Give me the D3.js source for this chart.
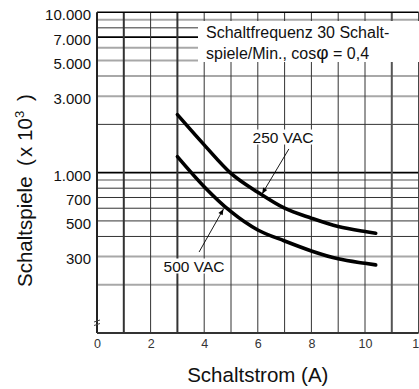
<!DOCTYPE html>
<html>
<head>
<meta charset="utf-8">
<script src="https://cdn.jsdelivr.net/npm/d3@7"></script>
<style>
  body { margin: 0; background: #fff; }
  svg { display: block; font-family: "Liberation Sans", Arial, sans-serif; }
</style>
</head>
<body>
<svg width="419" height="389"></svg>
<script>
// Schaltstrom (A) and Schaltspiele for both curves
var current = [3, 4, 5, 6, 7, 8, 9, 10, 10.4];
var vac250 = [2300, 1490, 990, 755, 600, 520, 461, 429, 419];
var vac500 = [1260, 818, 571, 439, 375, 325, 290, 272, 266];

var xTicks = [0, 2, 4, 6, 8, 10, 12];
var yTicks = [10000, 7000, 5000, 3000, 1000, 700, 500, 300];
var yTickLabels = ["10.000", "7.000", "5.000", "3.000", "1.000", "700", "500", "300"];

// grid lines
var xGrid = [1, 2, 3, 4, 5, 6, 7, 8, 9, 10, 11, 12];
var yGrid = [9000, 8000, 7000, 6000, 5000, 4000, 3000, 2000, 1000, 900, 800, 700, 600, 500, 400, 300, 200];
var yGridGray = [9000, 6000, 5000, 4000, 3000, 900, 300, 200];
var yGridBlack = [7000, 1000];
var xGridHeavy = [1, 3];

// annotation anchors (current, count)
var label250 = [6.94, 1670], arrow250 = [[7.16, 1405], [6.16, 737]];
var label500 = [3.62, 262], arrow500 = [[3.81, 320], [4.72, 594]];

var svg = d3.select("svg");

var x = d3.scaleLinear().domain([0, 12]).range([97, 418.6]);
var y = d3.scaleLog().domain([100, 10000]).range([333, 12.3]);

var grid = svg.append("g");

yGrid.forEach(function(v) {
  var gray = yGridGray.indexOf(v) >= 0, black = yGridBlack.indexOf(v) >= 0;
  grid.append("line")
    .attr("x1", x(0)).attr("x2", x(12))
    .attr("y1", y(v)).attr("y2", y(v))
    .attr("stroke", gray ? "#a8a8a8" : (black ? "#000" : "#333"))
    .attr("stroke-width", gray ? 2 : (black ? 1.6 : 1));
});

xGrid.forEach(function(v) {
  var heavy = xGridHeavy.indexOf(v) >= 0;
  grid.append("line")
    .attr("x1", x(v)).attr("x2", x(v))
    .attr("y1", y(10000)).attr("y2", y(100))
    .attr("stroke", v === 11 ? "#555" : "#333")
    .attr("stroke-width", (heavy || v === 11) ? 2 : 1);
});

// frame: top, left, bottom
svg.append("line").attr("x1", x(0)).attr("x2", x(12)).attr("y1", y(10000)).attr("y2", y(10000))
  .attr("stroke", "#000").attr("stroke-width", 1.6);
svg.append("line").attr("x1", x(0)).attr("x2", x(0)).attr("y1", y(10000)).attr("y2", y(100))
  .attr("stroke", "#222").attr("stroke-width", 2);
svg.append("line").attr("x1", x(0)).attr("x2", x(12)).attr("y1", y(100)).attr("y2", y(100))
  .attr("stroke", "#333").attr("stroke-width", 2.2);

// axis break mark
[0, 3.5].forEach(function(o) {
  svg.append("line").attr("x1", x(0) - 3).attr("x2", x(0) + 3)
    .attr("y1", y(100) - 12 + o + 1).attr("y2", y(100) - 12 + o - 1)
    .attr("stroke", "#444").attr("stroke-width", 1);
});

// info box
svg.append("rect").attr("x", 198).attr("y", 21).attr("width", 221).attr("height", 41).attr("fill", "#fff");
var info = svg.append("text").attr("font-size", 16).attr("fill", "#111");
info.append("tspan").attr("x", 206).attr("y", 37.5).text("Schaltfrequenz 30 Schalt-");
var l2 = info.append("tspan").attr("x", 206).attr("y", 59);
l2.append("tspan").text("spiele/Min., cos");
l2.append("tspan").attr("font-size", 19).text("φ");
l2.append("tspan").text(" = 0,4");

// axes
svg.append("g")
  .attr("transform", "translate(0," + y(100) + ")")
  .call(d3.axisBottom(x).tickValues(xTicks).tickSize(0).tickPadding(6).tickFormat(d3.format("d")))
  .call(function(g) { g.select(".domain").remove(); })
  .selectAll("text")
  .attr("font-family", "'Liberation Sans Narrow', 'Liberation Sans', Arial, sans-serif")
  .attr("font-size", 12.5).attr("fill", "#333");

svg.append("g")
  .attr("transform", "translate(" + x(0) + ",0)")
  .call(d3.axisLeft(y).tickValues(yTicks).tickSize(0).tickPadding(6)
    .tickFormat(function(d, i) { return yTickLabels[i]; }))
  .call(function(g) { g.select(".domain").remove(); })
  .selectAll("text")
  .attr("font-family", "'Liberation Sans', Arial, sans-serif")
  .attr("font-size", 15).attr("fill", "#111").attr("dy", "0.5em");

// curves
var line = d3.line()
  .x(function(d) { return x(d[0]); })
  .y(function(d) { return y(d[1]); })
  .curve(d3.curveMonotoneX);

[vac250, vac500].forEach(function(s) {
  svg.append("path")
    .datum(current.map(function(c, i) { return [c, s[i]]; }))
    .attr("fill", "none")
    .attr("stroke", "#000")
    .attr("stroke-width", 3.6)
    .attr("stroke-linecap", "round")
    .attr("d", line);
});

// annotations
svg.append("defs").append("marker")
  .attr("id", "arr").attr("viewBox", "0 0 10 10").attr("refX", 10).attr("refY", 5)
  .attr("markerWidth", 8).attr("markerHeight", 6).attr("markerUnits", "userSpaceOnUse")
  .attr("orient", "auto")
  .append("path").attr("d", "M0,1 L10,5 L0,9 Z").attr("fill", "#000");

[arrow250, arrow500].forEach(function(a) {
  svg.append("line")
    .attr("x1", x(a[0][0])).attr("y1", y(a[0][1]))
    .attr("x2", x(a[1][0])).attr("y2", y(a[1][1]))
    .attr("stroke", "#000").attr("stroke-width", 0.9)
    .attr("marker-end", "url(#arr)");
});

[[label250, "250 VAC"], [label500, "500 VAC"]].forEach(function(l) {
  var t = svg.append("text")
    .attr("x", x(l[0][0])).attr("y", y(l[0][1]))
    .attr("dy", "0.36em").attr("text-anchor", "middle")
    .attr("font-size", 15.5).attr("fill", "#111")
    .text(l[1]);
  var b = t.node().getBBox();
  svg.insert("rect", "text")
    .attr("x", b.x - 1).attr("y", b.y + 1).attr("width", b.width + 2).attr("height", b.height - 2)
    .attr("fill", "#fff");
});

// axis titles
svg.append("text")
  .attr("x", x(6)).attr("y", 382)
  .attr("text-anchor", "middle").attr("font-size", 20.5).attr("fill", "#111")
  .text("Schaltstrom (A)");

// y title: pieces spaced out along the rotated axis
var yt = svg.append("g").attr("transform", "translate(32,0) rotate(-90)")
  .attr("font-size", 20.5).attr("fill", "#111");
[["Schaltspiele", 287], ["(", 166], ["x", 157], ["10", 141]].forEach(function(p) {
  yt.append("text").attr("x", -p[1]).attr("y", 0).text(p[0]);
});
yt.append("text").attr("x", -118).attr("y", -8).attr("font-size", 13).text("3");
yt.append("text").attr("x", -101).attr("y", 0).text(")");
</script>
</body>
</html>
